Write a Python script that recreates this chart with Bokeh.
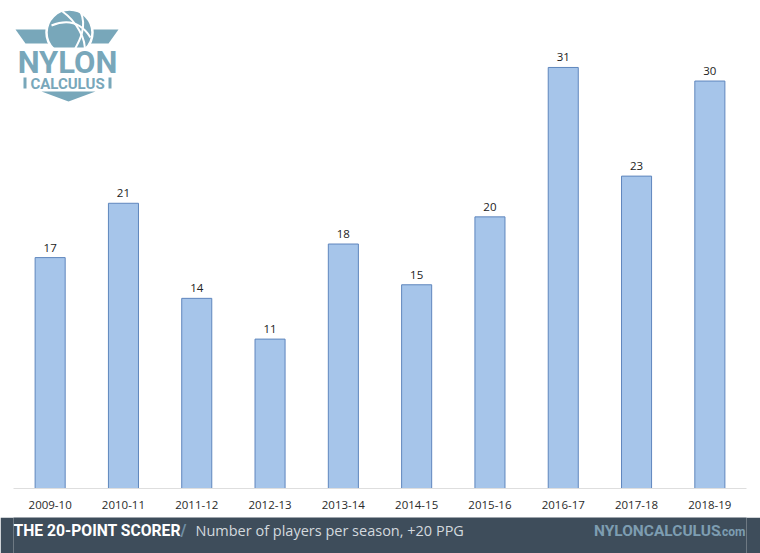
from bokeh.plotting import figure
from bokeh.models import Range1d, FixedTicker
from bokeh.layouts import column
from bokeh.core.properties import value
from bokeh.embed import file_html
from bokeh.resources import INLINE

seasons = ["2009-10", "2010-11", "2011-12", "2012-13", "2013-14",
           "2014-15", "2015-16", "2016-17", "2017-18", "2018-19"]
players = [17, 21, 14, 11, 18, 15, 20, 31, 23, 30]
title_main = "THE 20-POINT SCORER"
title_sub = "Number of players per season, +20 PPG"
brand = "NYLONCALCULUS"

BAR_FILL = "#a6c5ea"
BAR_LINE = "#5f86bd"
LOGO = "#78a7ba"
BAND = "#3e4d5b"
BOLD = value("Roboto")

xpos = [i + 0.5 for i in range(len(seasons))]

p = figure(x_range=Range1d(0, len(seasons)), y_range=Range1d(0, 35.93),
           width=760, height=517, output_backend="svg", toolbar_location=None,
           y_axis_location=None, min_border_left=13, min_border_right=14,
           min_border_top=0, min_border_bottom=29)
p.outline_line_color = None
p.grid.visible = False
p.xaxis.ticker = FixedTicker(ticks=xpos)
p.xaxis.major_label_overrides = {x: s for x, s in zip(xpos, seasons)}
p.xaxis.axis_line_color = "#dedede"
p.xaxis.axis_line_width = 1
p.xaxis.major_tick_line_color = None
p.xaxis.minor_tick_line_color = None
p.xaxis.major_label_standoff = 6
p.xaxis.major_label_text_font = "Open Sans"
p.xaxis.major_label_text_font_size = "11.5px"
p.xaxis.major_label_text_color = "#2a2a2a"

p.vbar(x=xpos, top=players, width=0.41, fill_color=BAR_FILL,
       line_color=BAR_LINE, line_width=1)
p.text(x=xpos, y=players, text=[str(v) for v in players], y_offset=-10,
       text_align="center", text_baseline="middle", text_font=value("Open Sans"),
       text_font_size="11.5px", text_color="#222222")

# ---- logo (frame pixel coordinates: x = page x - 13, y = page y downward) ----
p.extra_x_ranges = {"px": Range1d(0, 733)}
p.extra_y_ranges = {"py": Range1d(488, 0)}
kw = dict(x_range_name="px", y_range_name="py")

p.patches(xs=[[2, 38, 38, 12], [74, 105, 95, 74]],
          ys=[[29, 29, 43, 43], [29, 29, 43, 43]],
          fill_color=LOGO, line_color=None, **kw)
p.scatter(x=[56], y=[32], size=46, marker="circle", fill_color=LOGO,
          line_color="white", line_width=2.5, **kw)
p.bezier(x0=[38, 49, 67], y0=[25, 11, 11], x1=[77, 71, 59], y1=[37, 51, 53],
         cx0=[53, 63, 75], cy0=[19, 21, 29], cx1=[67, 73, 63],
         cy1=[21, 39, 45], line_color="white", line_width=2, **kw)
p.quad(left=[6], right=[104], top=[47], bottom=[76], fill_color="white",
       line_color=None, **kw)
p.text(x=[54], y=[62], text=["NYLON"], text_align="center",
       text_baseline="middle", text_font=BOLD, text_font_style="bold",
       text_font_size="31px", text_color=LOGO, **kw)
p.text(x=[54], y=[83], text=["CALCULUS"], text_align="center",
       text_baseline="middle", text_font=BOLD, text_font_style="bold",
       text_font_size="15px", text_color=LOGO, **kw)
p.quad(left=[10, 95], right=[13, 98], top=[77, 77], bottom=[88, 88],
       fill_color=LOGO, line_color=None, **kw)
p.patches(xs=[[28, 82, 55]], ys=[[91, 91, 101]], fill_color=LOGO,
          line_color=None, **kw)

# ---- bottom band (frame aligned with the chart frame: page x 13..746) ----
b = figure(width=760, height=36, x_range=Range1d(13, 746), y_range=Range1d(0, 36),
           output_backend="svg", toolbar_location=None, x_axis_location=None,
           y_axis_location=None, min_border=0)
b.grid.visible = False
b.outline_line_color = None
b.background_fill_color = BAND
b.border_fill_color = BAND
b.text(x=[13], y=[23], text=[title_main], text_baseline="middle",
       text_font=BOLD, text_font_style="bold", text_font_size="15.7px",
       text_color="white")
b.text(x=[180], y=[23], text=["/"], text_baseline="middle",
       text_font=BOLD, text_font_style="bold", text_font_size="16px",
       text_color="#6f8fa5")
b.text(x=[195], y=[23], text=[title_sub], text_baseline="middle",
       text_font=value("Open Sans"), text_font_size="14.5px",
       text_color="#d3d9de")
b.text(x=[720], y=[23], text=[brand], text_align="right", text_baseline="middle",
       text_font=BOLD, text_font_style="bold", text_font_size="15.5px",
       text_color="#7d9db1")
b.text(x=[745], y=[22], text=[".com"], text_align="right", text_baseline="middle",
       text_font=BOLD, text_font_style="bold", text_font_size="12px",
       text_color="#7d9db1")

layout = column(p, b, spacing=0)
open("out.html", "w").write(file_html(layout, INLINE))
